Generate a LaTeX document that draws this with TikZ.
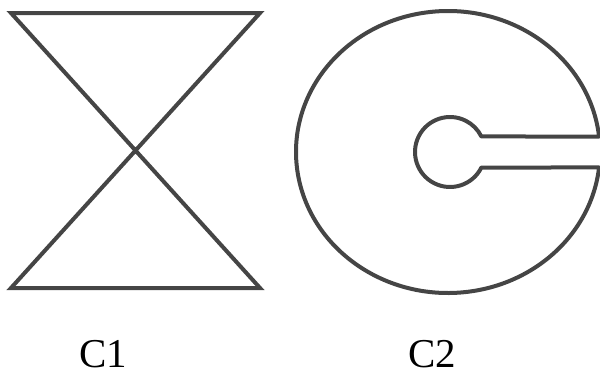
\documentclass[tikz,border=0pt]{standalone}
\usepackage{fontspec}
\setmainfont{Liberation Serif}
\usepackage{xcolor}
\usepackage{tikz}
\usetikzlibrary{calc}

\definecolor{strokegray}{HTML}{454545}

\begin{document}
\begin{tikzpicture}[x=1pt,y=1pt,
    outline/.style={line width=4pt,draw=strokegray,line join=miter},
    every node/.style={font=\fontsize{41}{48}\selectfont,anchor=base,inner sep=0pt}]
  \useasboundingbox (0,0) rectangle (600,376);
  % C1: hourglass
  \draw[outline] (11,363) -- (260,363) -- (11,88) -- (260,88) -- cycle;
  % C2: ellipse with round hole and slot
  \draw[outline,line join=round]
        ($(448,224)+(6.31:152 and 141)$)
        arc[start angle=6.31,end angle=353.69,x radius=152,y radius=141]
        -- ($(450,224)+(-26.3:35)$)                % lower slot edge
        arc[start angle=-26.3,end angle=-333.7,radius=35]
        -- cycle;                                  % upper slot edge
  \node (c1) at (103,9) {C1};
  \node (c2) at (432,9) {C2};
\end{tikzpicture}
\end{document}
